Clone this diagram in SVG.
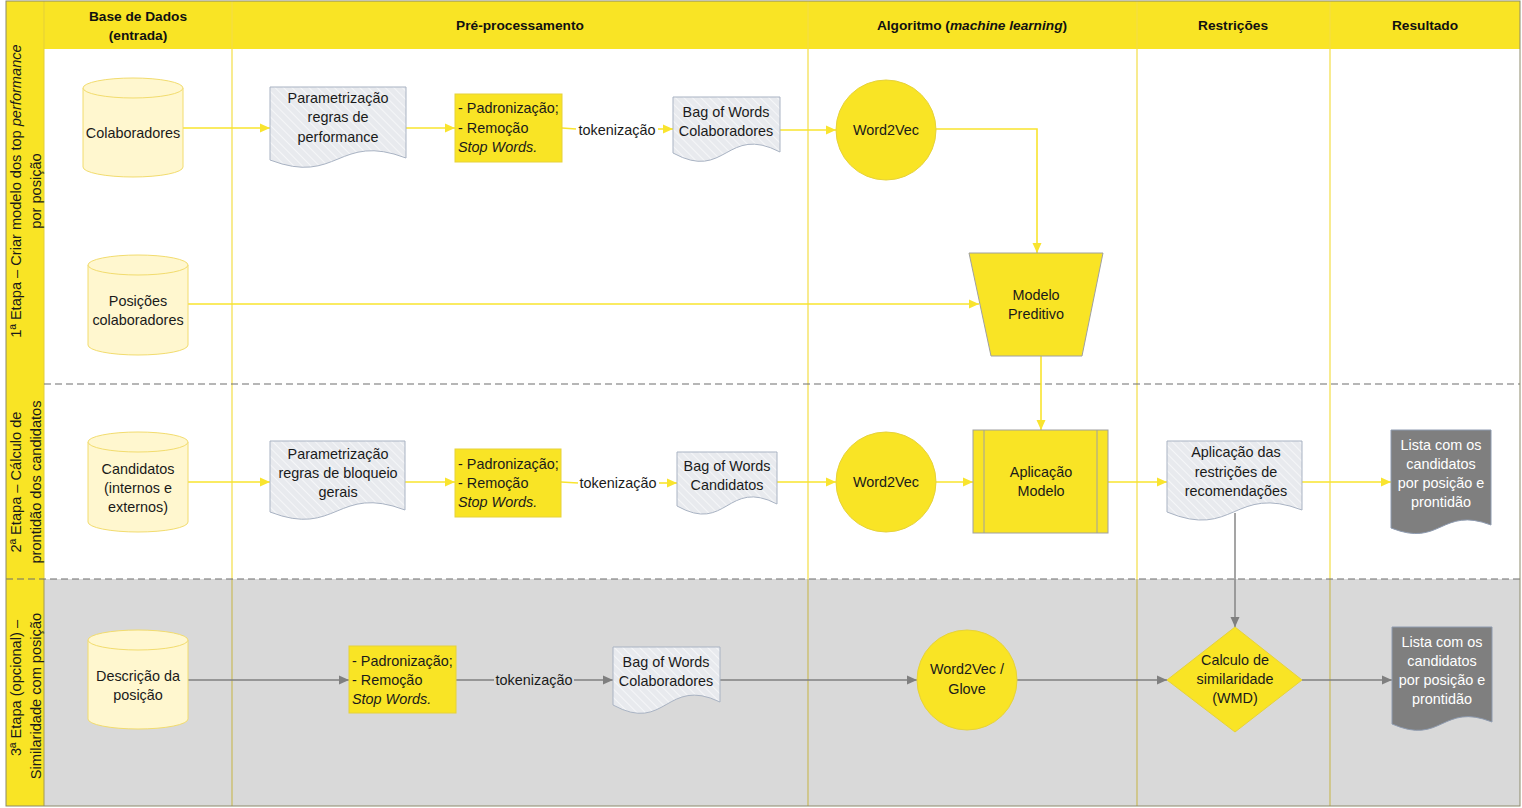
<svg xmlns="http://www.w3.org/2000/svg" width="1522" height="808" viewBox="0 0 1522 808">
<style>
.t{font-family:"Liberation Sans",Arial,sans-serif;font-size:14.4px;fill:#1a1a1a;text-anchor:middle}
.tl{text-anchor:start}
.h{font-weight:bold;fill:#111;font-size:13.7px}
.lb{font-size:14.6px}
.w{fill:#ffffff}
.cyl{fill:#FFF7CF;stroke:#F2DC6E;stroke-width:1}
.doc{fill:url(#hatch);stroke:#A9B3C3;stroke-width:1}
.dk{fill:#7F7F7F;stroke:#8E9BB0;stroke-width:1}
.yb{fill:#F9E425;stroke:#E6D23A;stroke-width:1}
.yg{fill:#F9E425;stroke:#A0A0A0;stroke-width:1}
.cy{fill:none;stroke:#F9E42E;stroke-width:1.6}
.cg{fill:none;stroke:#7F7F7F;stroke-width:1.4}
.div{stroke:#F4DE45;stroke-width:1.2}
.div3{stroke:#C9BA5C;stroke-width:1.2}
.dash{stroke:#6F6F6F;stroke-width:1.2;stroke-dasharray:7 4}
</style>
<defs>
<pattern id="hatch" width="6" height="6" patternUnits="userSpaceOnUse" patternTransform="rotate(-45)">
<rect width="6" height="6" fill="#E8EAEE"/>
<line x1="0" y1="0" x2="0" y2="6" stroke="#F5F6F8" stroke-width="2"/>
</pattern>
<marker id="ay" markerUnits="userSpaceOnUse" markerWidth="10" markerHeight="10" refX="10" refY="5" orient="auto"><path d="M0,0.5 L10,5 L0,9.5 Z" fill="#F9E42E"/></marker>
<marker id="ag" markerUnits="userSpaceOnUse" markerWidth="10" markerHeight="10" refX="10" refY="5" orient="auto"><path d="M0,0.5 L10,5 L0,9.5 Z" fill="#7F7F7F"/></marker>
</defs>

<g id="background">
<rect x="0" y="0" width="1522" height="808" fill="#ffffff"/>
<rect x="44" y="49" width="1476" height="530" fill="#ffffff"/>
<rect x="44" y="579" width="1476" height="227" fill="#D9D9D9"/>
<rect x="6" y="1" width="38" height="805" fill="#F9E425"/>
<rect x="44" y="1" width="1476" height="48" fill="#F9E425"/>
<line class="div" x1="232" y1="1" x2="232" y2="579"/>
<line class="div" x1="808" y1="1" x2="808" y2="579"/>
<line class="div" x1="1137" y1="1" x2="1137" y2="579"/>
<line class="div" x1="1330" y1="1" x2="1330" y2="579"/>
<line class="div3" x1="232" y1="579" x2="232" y2="806"/>
<line class="div3" x1="808" y1="579" x2="808" y2="806"/>
<line class="div3" x1="1137" y1="579" x2="1137" y2="806"/>
<line class="div3" x1="1330" y1="579" x2="1330" y2="806"/>
<line x1="44" y1="1" x2="44" y2="579" stroke="#E3CF3A" stroke-width="1"/>
<line x1="44" y1="579" x2="44" y2="806" stroke="#A59B52" stroke-width="1"/>
<line class="dash" x1="44" y1="384" x2="1520" y2="384"/>
<line class="dash" x1="6" y1="579" x2="1520" y2="579"/>
<rect x="6" y="1" width="1514" height="805" fill="none" stroke="#8C8A6A" stroke-width="1"/>
</g>

<g id="headers">
<text class="t h" x="138" y="21">Base de Dados</text>
<text class="t h" x="138" y="40">(entrada)</text>
<text class="t h" x="520" y="30">Pré-processamento</text>
<text class="t h" x="972" y="30">Algoritmo (<tspan font-style="italic">machine learning</tspan>)</text>
<text class="t h" x="1233" y="30">Restrições</text>
<text class="t h" x="1425" y="30">Resultado</text>
</g>

<g id="lane-labels">
<text class="t lb" transform="translate(21,191) rotate(-90)">1ª Etapa – Criar modelo dos top <tspan font-style="italic">performance</tspan></text>
<text class="t lb" transform="translate(41,191) rotate(-90)">por posição</text>
<text class="t lb" transform="translate(21,482) rotate(-90)">2ª Etapa – Cálculo de</text>
<text class="t lb" transform="translate(41,482) rotate(-90)">prontidão dos candidatos</text>
<text class="t lb" transform="translate(21,688) rotate(-90)">3ª Etapa (opcional) –</text>
<text class="t lb" transform="translate(41,696) rotate(-90)">Similaridade com posição</text>
</g>

<g id="connectors">
<line class="cy" x1="183" y1="128" x2="270" y2="128" marker-end="url(#ay)"/>
<line class="cy" x1="406" y1="128" x2="455" y2="128" marker-end="url(#ay)"/>
<line class="cy" x1="562" y1="128" x2="576" y2="129"/>
<line class="cy" x1="658" y1="129" x2="673" y2="129" marker-end="url(#ay)"/>
<line class="cy" x1="780" y1="130" x2="836" y2="130" marker-end="url(#ay)"/>
<polyline class="cy" points="936,129 1037,129 1037,253" marker-end="url(#ay)"/>
<line class="cy" x1="188" y1="304" x2="979" y2="304" marker-end="url(#ay)"/>
<line class="cy" x1="1041" y1="356" x2="1041" y2="430" marker-end="url(#ay)"/>

<line class="cy" x1="188" y1="482" x2="270" y2="482" marker-end="url(#ay)"/>
<line class="cy" x1="405" y1="482" x2="455" y2="482" marker-end="url(#ay)"/>
<line class="cy" x1="561" y1="482" x2="578" y2="483"/>
<line class="cy" x1="659" y1="483" x2="677" y2="483" marker-end="url(#ay)"/>
<line class="cy" x1="777" y1="482" x2="836" y2="482" marker-end="url(#ay)"/>
<line class="cy" x1="936" y1="482" x2="973" y2="482" marker-end="url(#ay)"/>
<line class="cy" x1="1108" y1="482" x2="1167" y2="482" marker-end="url(#ay)"/>
<line class="cy" x1="1302" y1="482" x2="1391" y2="482" marker-end="url(#ay)"/>

<line class="cg" x1="1235" y1="513" x2="1235" y2="627" marker-end="url(#ag)"/>
<line class="cg" x1="188" y1="680" x2="349" y2="680" marker-end="url(#ag)"/>
<line class="cg" x1="456" y1="680" x2="494" y2="680"/>
<line class="cg" x1="574" y1="680" x2="613" y2="680" marker-end="url(#ag)"/>
<line class="cg" x1="720" y1="680" x2="917" y2="680" marker-end="url(#ag)"/>
<line class="cg" x1="1017" y1="680" x2="1167" y2="680" marker-end="url(#ag)"/>
<line class="cg" x1="1302" y1="680" x2="1392" y2="680" marker-end="url(#ag)"/>

<text class="t" x="617" y="135">tokenização</text>
<text class="t" x="618" y="488">tokenização</text>
<text class="t" x="534" y="685">tokenização</text>
</g>

<g id="node-colaboradores">
<path class="cyl" d="M83,88 A50,10 0 0,1 183,88 V167 A50,10 0 0,1 83,167 Z"/>
<path class="cyl" fill="none" d="M83,88 A50,10 0 0,0 183,88"/>
<text class="t" x="133" y="138">Colaboradores</text>
</g>

<g id="node-param-performance">
<path class="doc" d="M270,87 H406 V158 C338,132 338,186 270,160 Z"/>
<text class="t" x="338" y="103">Parametrização</text>
<text class="t" x="338" y="122">regras de</text>
<text class="t" x="338" y="142">performance</text>
</g>

<g id="node-padronizacao-1">
<rect class="yb" x="455" y="94" width="107" height="68"/>
<text class="t tl" x="458" y="113">- Padronização;</text>
<text class="t tl" x="458" y="133">- Remoção</text>
<text class="t tl" x="458" y="152" font-style="italic">Stop Words.</text>
</g>

<g id="node-bow-colaboradores-1">
<path class="doc" d="M673,97 H780 V152 C726,124 726,182 673,153 Z"/>
<text class="t" x="726" y="117">Bag of Words</text>
<text class="t" x="726" y="136">Colaboradores</text>
</g>

<g id="node-word2vec-1">
<circle class="yb" cx="886" cy="130" r="50"/>
<text class="t" x="886" y="135">Word2Vec</text>
</g>

<g id="node-posicoes">
<path class="cyl" d="M88,265 A50,10 0 0,1 188,265 V345 A50,10 0 0,1 88,345 Z"/>
<path class="cyl" fill="none" d="M88,265 A50,10 0 0,0 188,265"/>
<text class="t" x="138" y="306">Posições</text>
<text class="t" x="138" y="325">colaboradores</text>
</g>

<g id="node-modelo-preditivo">
<path class="yg" d="M969,253 H1103 L1082,356 H991 Z"/>
<text class="t" x="1036" y="300">Modelo</text>
<text class="t" x="1036" y="319">Preditivo</text>
</g>

<g id="node-candidatos">
<path class="cyl" d="M88,442 A50,10 0 0,1 188,442 V522 A50,10 0 0,1 88,522 Z"/>
<path class="cyl" fill="none" d="M88,442 A50,10 0 0,0 188,442"/>
<text class="t" x="138" y="474">Candidatos</text>
<text class="t" x="138" y="493">(internos e</text>
<text class="t" x="138" y="512">externos)</text>
</g>

<g id="node-param-bloqueio">
<path class="doc" d="M270,441 H405 V510 C337,484 337,538 270,512 Z"/>
<text class="t" x="338" y="459">Parametrização</text>
<text class="t" x="338" y="478">regras de bloqueio</text>
<text class="t" x="338" y="497">gerais</text>
</g>

<g id="node-padronizacao-2">
<rect class="yb" x="455" y="449" width="106" height="68"/>
<text class="t tl" x="458" y="469">- Padronização;</text>
<text class="t tl" x="458" y="488">- Remoção</text>
<text class="t tl" x="458" y="507" font-style="italic">Stop Words.</text>
</g>

<g id="node-bow-candidatos">
<path class="doc" d="M677,452 H777 V504 C727,478 727,534 677,506 Z"/>
<text class="t" x="727" y="471">Bag of Words</text>
<text class="t" x="727" y="490">Candidatos</text>
</g>

<g id="node-word2vec-2">
<circle class="yb" cx="886" cy="482" r="50"/>
<text class="t" x="886" y="487">Word2Vec</text>
</g>

<g id="node-aplicacao-modelo">
<rect class="yg" x="973" y="430" width="135" height="103"/>
<line x1="984" y1="430" x2="984" y2="533" stroke="#A0A0A0" stroke-width="1"/>
<line x1="1097" y1="430" x2="1097" y2="533" stroke="#A0A0A0" stroke-width="1"/>
<text class="t" x="1041" y="477">Aplicação</text>
<text class="t" x="1041" y="496">Modelo</text>
</g>

<g id="node-restricoes">
<path class="doc" d="M1167,441 H1302 V510 C1234,484 1234,540 1167,512 Z"/>
<text class="t" x="1236" y="457">Aplicação das</text>
<text class="t" x="1236" y="477">restrições de</text>
<text class="t" x="1236" y="496">recomendações</text>
</g>

<g id="node-lista-1">
<path class="dk" d="M1391,430 H1491 V525 C1441,506 1441,548 1391,528 Z"/>
<text class="t w" x="1441" y="450">Lista com os</text>
<text class="t w" x="1441" y="469">candidatos</text>
<text class="t w" x="1441" y="488">por posição e</text>
<text class="t w" x="1441" y="507">prontidão</text>
</g>

<g id="node-descricao">
<path class="cyl" d="M88,640 A50,10 0 0,1 188,640 V719 A50,10 0 0,1 88,719 Z"/>
<path class="cyl" fill="none" d="M88,640 A50,10 0 0,0 188,640"/>
<text class="t" x="138" y="681">Descrição da</text>
<text class="t" x="138" y="700">posição</text>
</g>

<g id="node-padronizacao-3">
<rect class="yb" x="349" y="646" width="107" height="67"/>
<text class="t tl" x="352" y="666">- Padronização;</text>
<text class="t tl" x="352" y="685">- Remoção</text>
<text class="t tl" x="352" y="704" font-style="italic">Stop Words.</text>
</g>

<g id="node-bow-colaboradores-3">
<path class="doc" d="M613,647 H720 V702 C666,676 666,734 613,705 Z"/>
<text class="t" x="666" y="667">Bag of Words</text>
<text class="t" x="666" y="686">Colaboradores</text>
</g>

<g id="node-word2vec-glove">
<circle class="yb" cx="967" cy="680" r="50"/>
<text class="t" x="967" y="674">Word2Vec /</text>
<text class="t" x="967" y="694">Glove</text>
</g>

<g id="node-calculo-similaridade">
<path class="yb" d="M1235,627 L1302,680 L1235,732 L1167,680 Z"/>
<text class="t" x="1235" y="665">Calculo de</text>
<text class="t" x="1235" y="684">similaridade</text>
<text class="t" x="1235" y="703">(WMD)</text>
</g>

<g id="node-lista-2">
<path class="dk" d="M1392,627 H1492 V722 C1442,702 1442,746 1392,724 Z"/>
<text class="t w" x="1442" y="647">Lista com os</text>
<text class="t w" x="1442" y="666">candidatos</text>
<text class="t w" x="1442" y="685">por posição e</text>
<text class="t w" x="1442" y="704">prontidão</text>
</g>
</svg>
